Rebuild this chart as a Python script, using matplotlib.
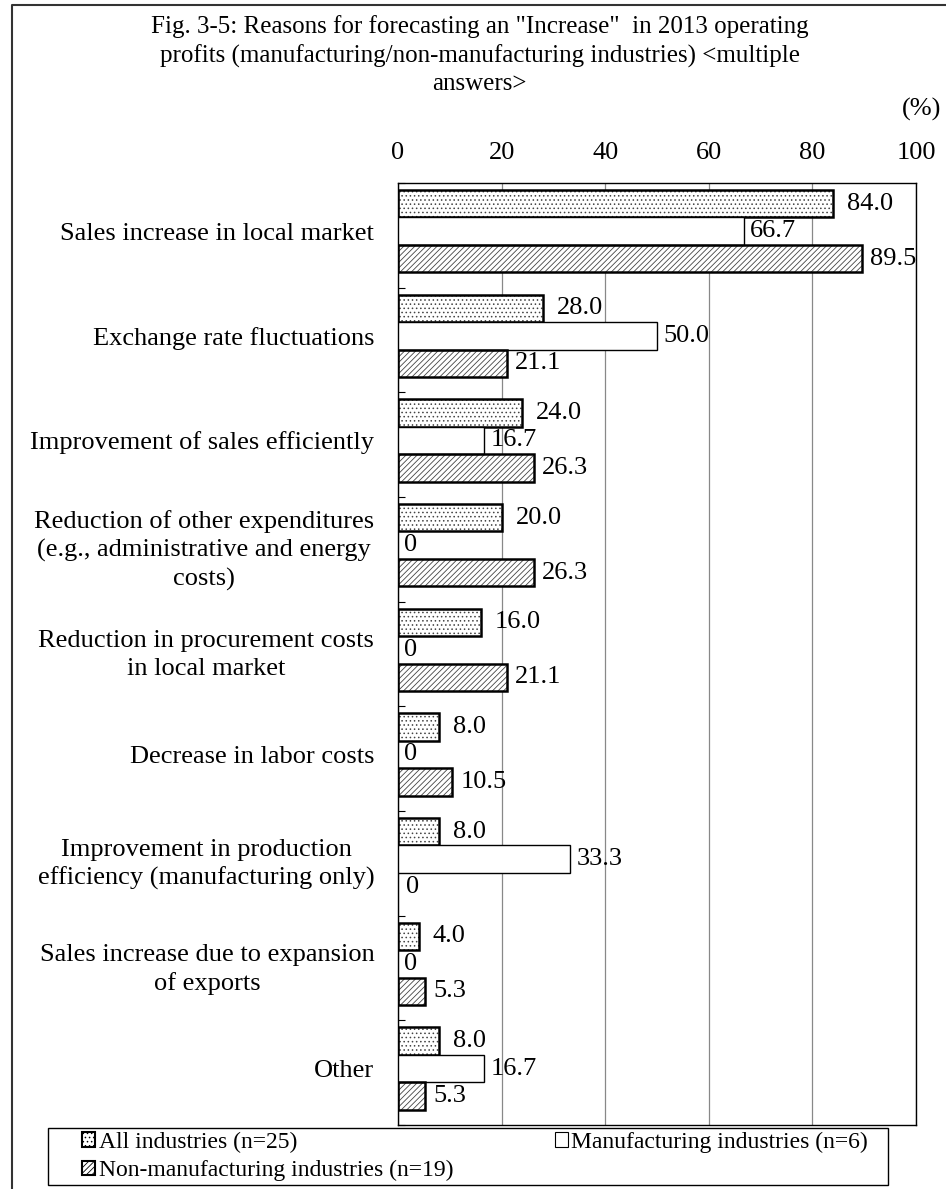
import numpy as np
import matplotlib
matplotlib.use("Agg")
import matplotlib.pyplot as plt
from matplotlib.patches import Patch, Rectangle
from matplotlib.lines import Line2D

plt.rcParams['font.family'] = ['Liberation Serif', 'DejaVu Serif']
plt.rcParams['hatch.linewidth'] = 0.6

categories = ["Sales increase in local market",
              "Exchange rate fluctuations",
              "Improvement of sales efficiently",
              "Reduction of other expenditures\n(e.g., administrative and energy\ncosts)",
              "Reduction in procurement costs\nin local market",
              "Decrease in labor costs",
              "Improvement in production\nefficiency (manufacturing only)",
              "Sales increase due to expansion\nof exports",
              "Other"]
all_ind = [84.0, 28.0, 24.0, 20.0, 16.0, 8.0, 8.0, 4.0, 8.0]
manuf = [66.7, 50.0, 16.7, 0, 0, 0, 33.3, 0, 16.7]
nonmanuf = [89.5, 21.1, 26.3, 26.3, 21.1, 10.5, 0, 5.3, 5.3]
series_names = ["All industries (n=25)", "Manufacturing industries (n=6)",
                "Non-manufacturing industries (n=19)"]
title = ('Fig. 3-5: Reasons for forecasting an "Increase"  in 2013 operating\n'
         'profits (manufacturing/non-manufacturing industries) <multiple\nanswers>')

fig = plt.figure(figsize=(9.46, 11.89), dpi=100)
ax = fig.add_axes([0.4207, 0.0538, 0.5476, 0.7923])

FS = 19
n = len(categories)
centers = np.arange(n) + 0.46
h = 0.262
styles = [dict(hatch='....', lw=1.8), dict(hatch=None, lw=1.0), dict(hatch='//////', lw=1.8)]
offsets_px = [14, 6, 8]
for k, vals in enumerate([all_ind, manuf, nonmanuf]):
    y = centers + (k - 1) * h
    st = styles[k]
    if st['hatch']:
        ax.barh(y, vals, height=h, color='white', edgecolor='#444444',
                hatch=st['hatch'], linewidth=0, zorder=2)
    lws = [st['lw'] if v > 0 else 0 for v in vals]
    ax.barh(y, vals, height=h, facecolor='none' if st['hatch'] else 'white',
            edgecolor='black', linewidth=lws, zorder=3)
    for yi, v in zip(y, vals):
        txt = "0" if v == 0 else f"{v:.1f}"
        ax.annotate(txt, (v, yi), xytext=(offsets_px[k], 0), textcoords='offset pixels',
                    va='center', ha='left', fontsize=FS, zorder=4)

ax.set_xlim(0, 100)
ax.set_ylim(n, 0)
ax.xaxis.tick_top()
ax.set_xticks([0, 20, 40, 60, 80, 100])
ax.tick_params(axis='x', length=0, pad=14, labelsize=FS)
ax.grid(axis='x', color='#888888', linewidth=0.9, zorder=0)
ax.set_axisbelow(True)
ax.set_yticks(centers)
ax.set_yticklabels(categories, fontsize=FS, multialignment='center', linespacing=1.32)
ax.tick_params(axis='y', which='major', length=0, pad=17)
ax.set_yticks(np.arange(n + 1), minor=True)
ax.tick_params(axis='y', which='minor', direction='in', length=5, width=0.8)
for s in ax.spines.values():
    s.set_linewidth(1.0)

fig.text(0.507, 0.987, title, ha='center', va='top', fontsize=18, linespacing=1.32)
fig.text(0.995, 0.908, "(%)", ha='right', va='center', fontsize=FS)

# legend frame drawn separately so entries can sit inset from the box edge
fig.add_artist(Rectangle((48 / 946, 1 - 1185 / 1189), 840 / 946, 57 / 1189,
                         transform=fig.transFigure, facecolor='white',
                         edgecolor='black', linewidth=1.0))
handles = [Patch(facecolor='white', edgecolor='black', hatch='....', lw=1.5),
           Patch(facecolor='white', edgecolor='black', hatch='//////', lw=1.5),
           Patch(facecolor='white', edgecolor='black', lw=0.8)]
labels = [series_names[0], series_names[2], series_names[1]]
leg = fig.legend(handles, labels, ncol=2, loc='center left',
                 bbox_to_anchor=(82 / 946, 1 - 1185 / 1189, 786 / 946, 57 / 1189),
                 mode='expand', fontsize=17, frameon=False, borderpad=0,
                 handlelength=0.55, handleheight=0.55, handletextpad=0.15,
                 labelspacing=0.3, borderaxespad=0, columnspacing=1.0)

fig.add_artist(Line2D([12 / 946, 12 / 946, 1.0], [0.0, 1 - 5 / 1189, 1 - 5 / 1189],
                      transform=fig.transFigure, color='#333333', linewidth=1.5))

fig.savefig("out.png", dpi=100)
